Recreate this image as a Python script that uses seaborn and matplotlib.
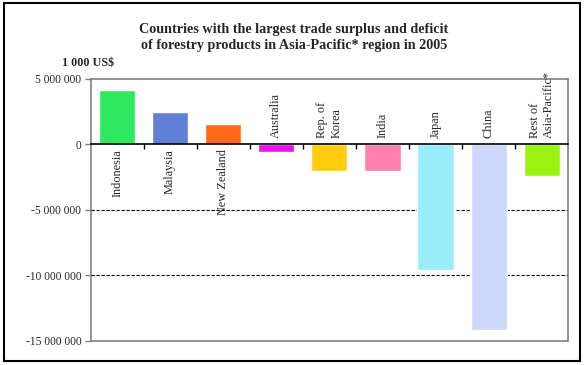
import numpy as np
import matplotlib.pyplot as plt
import seaborn as sns
from matplotlib.patches import Rectangle

# Trade balance of forestry products, 2005 (1 000 US$)
countries = ['Indonesia', 'Malaysia', 'New Zealand', 'Australia', 'Rep. of\nKorea',
             'India', 'Japan', 'China', 'Rest of\nAsia-Pacific*']
balance = [4150000, 2470000, 1530000, -590000, -2060000,
           -2060000, -9600000, -14200000, -2420000]
bar_colors = ['#2EE860', '#6080D8', '#FF6A1A', '#F010F0', '#FFCC10',
              '#FF80AC', '#9AEEFC', '#CCD8FC', '#99F510']
yticks = [5000000, 0, -5000000, -10000000, -15000000]

sns.set_style('white')
plt.rcParams['font.family'] = ['Liberation Serif', 'DejaVu Serif']

fig = plt.figure(figsize=(5.84, 3.65), dpi=100)
ax = fig.add_axes([0.155, 0.066, 0.818, 0.718])

sns.barplot(x=countries, y=balance, hue=countries, palette=bar_colors,
            legend=False, width=0.68, saturation=1, ax=ax, zorder=3)

ax.set_ylim(-15000000, 5000000)
ax.set_xlim(-0.5, len(countries) - 0.5)
ax.set_yticks(yticks)
ax.set_yticklabels([f'{v:,}'.replace(',', ' ') for v in yticks], fontsize=8.3)
ax.set_xticks([])
ax.set_xticks(np.arange(len(countries) - 1) + 0.5, minor=True)
ax.tick_params(axis='x', which='minor', direction='out', length=3.5,
               width=1, color='black', bottom=True)
ax.tick_params(axis='y', direction='out', length=4, width=1, color='#808080',
               left=True, pad=2.5)

# dashed gridlines, zero axis
for v in yticks[2:4]:
    ax.axhline(v, color='black', linestyle=(0, (3, 1.5)), linewidth=0.8, zorder=1)
for side in ['left', 'right', 'top']:
    ax.spines[side].set_color('#808080')
    ax.spines[side].set_linewidth(1.2)
ax.spines['bottom'].set_position(('data', 0))
ax.spines['bottom'].set_color('black')
ax.spines['bottom'].set_linewidth(1.2)
ax.spines['bottom'].set_zorder(4)
ax.axhline(-15000000, color='#808080', linewidth=1.2, clip_on=False)
ax.set_xlabel('')
ax.set_ylabel('')

# category labels, rotated, on the opposite side of zero to the bar
for i, (name, v) in enumerate(zip(countries, balance)):
    if v >= 0:
        ax.text(i, -380000, name, rotation=90, ha='center', va='top',
                fontsize=8.8, zorder=5)
    else:
        ax.text(i, 500000, name, rotation=90, ha='center', va='bottom',
                fontsize=8.8, zorder=5, multialignment='left', clip_on=False)

fig.text(0.503, 0.8966, 'Countries with the largest trade surplus and deficit\n'
         'of forestry products in Asia-Pacific* region in 2005',
         ha='center', va='center', fontsize=10.2, fontweight='bold', linespacing=1.26)
fig.text(0.151, 0.827, '1 000 US$', ha='center', va='center', fontsize=8.7,
         fontweight='bold')

fig.patches.append(Rectangle((0.006, 0.011), 0.988, 0.98, transform=fig.transFigure,
                             fill=False, edgecolor='black', linewidth=1.5))

fig.savefig('out.png', dpi=100)
